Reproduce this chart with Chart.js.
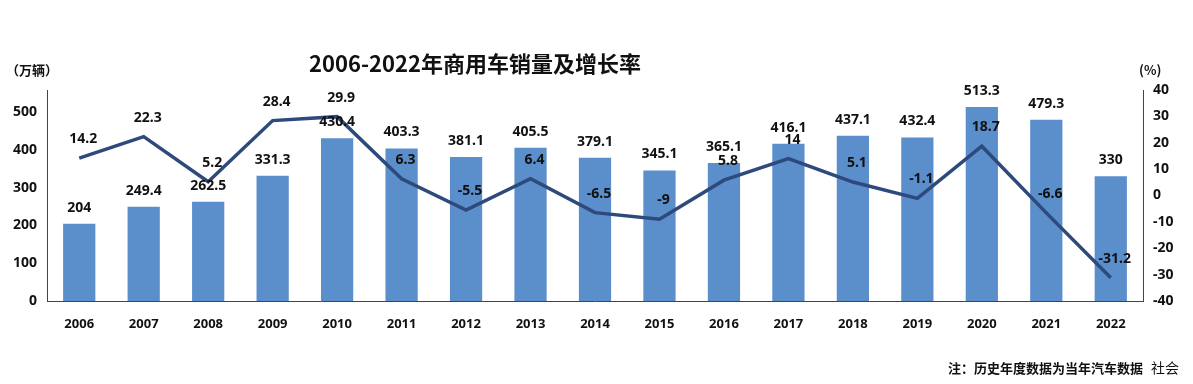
<!DOCTYPE html>
<html><head><meta charset="utf-8">
<script src="https://cdn.jsdelivr.net/npm/chart.js@4"></script>
<style>
html,body{margin:0;padding:0;background:#fff;}
#wrap{position:relative;width:1193px;height:384px;}
canvas{position:absolute;left:0;top:0;}
.t{position:absolute;font-family:"Noto Sans CJK SC","Noto Sans",sans-serif;font-weight:bold;color:#111;white-space:nowrap;line-height:1;}
</style></head>
<body><div id="wrap">
<canvas id="c" width="1193" height="384"></canvas>
<div class="t" style="left:309px;top:51px;font-size:22px;">2006-2022年商用车销量及增长率</div>
<div class="t" style="left:6px;top:63px;font-size:13px;">（万辆）</div>
<div class="t" style="left:1139px;top:63px;font-size:13px;">(%)</div>
<div class="t" style="left:948px;top:361px;font-size:13px;">注：历史年度数据为当年汽车数据</div>
<div class="t" style="left:1151px;top:360px;font-size:14px;font-weight:normal;">社会</div>
</div>
<script>
const categories = ["2006","2007","2008","2009","2010","2011","2012","2013","2014","2015","2016","2017","2018","2019","2020","2021","2022"];
const salesValues = [204,249.4,262.5,331.3,430.4,403.3,381.1,405.5,379.1,345.1,365.1,416.1,437.1,432.4,513.3,479.3,330];
const growthValues = [14.2,22.3,5.2,28.4,29.9,6.3,-5.5,6.4,-6.5,-9,5.8,14,5.1,-1.1,18.7,-6.6,-31.2];

const labelPlugin = {
  id:'vals',
  afterDatasetsDraw(chart){
    const ctx = chart.ctx;
    ctx.save();
    ctx.font = 'bold 14px "Noto Sans", sans-serif';
    ctx.fillStyle = '#111';
    ctx.textAlign = 'center';
    ctx.textBaseline = 'middle';
    chart.data.datasets.forEach((ds, di) => {
      const meta = chart.getDatasetMeta(di);
      meta.data.forEach((el, i) => {
        const off = ds.type === 'line' ? 19 : 16;
        ctx.fillText(String(ds.data[i]), el.x + (ds.type==='line'?4:0), el.y - off);
      });
    });
    ctx.restore();
  }
};

new Chart(document.getElementById('c'), {
  data: {
    labels: categories,
    datasets: [
      { type:'line', label:'增长率', data: growthValues, yAxisID:'y2', borderColor:'#2e4a7c', borderWidth:3.5, pointRadius:0, tension:0, order:0 },
      { type:'bar', label:'销量', data: salesValues, yAxisID:'y', backgroundColor:'#5a8fcc', categoryPercentage:1, barPercentage:0.5, order:1 }
    ]
  },
  options: {
    responsive:false, animation:false,
    layout:{ padding:{ top:90, left:0, right:0, bottom:0 } },
    plugins:{ legend:{display:false}, tooltip:{enabled:false} },
    scales:{
      x:{
        offset:true,
        grid:{ display:false, drawTicks:false },
        border:{ display:true, color:'#444', width:1 },
        ticks:{ padding:15, color:'#111', font:{ family:'"Noto Sans", sans-serif', size:13, weight:'bold' } },
        afterFit(s){ s.height = 83; }
      },
      y:{
        position:'left', min:0, max:558,
        grid:{ display:false, drawTicks:false },
        border:{ display:true, color:'#444', width:1 },
        ticks:{ stepSize:100, includeBounds:false, padding:10, color:'#111', font:{ family:'"Noto Sans", sans-serif', size:14, weight:'bold' } },
        afterFit(s){ s.width = 47; }
      },
      y2:{
        position:'right', min:-40, max:40,
        grid:{ display:false, drawTicks:false },
        border:{ display:true, color:'#444', width:1 },
        ticks:{ stepSize:10, padding:10, color:'#111', font:{ family:'"Noto Sans", sans-serif', size:14, weight:'bold' } },
        afterFit(s){ s.width = 50; }
      }
    }
  },
  plugins:[labelPlugin]
});
</script>
</body></html>
